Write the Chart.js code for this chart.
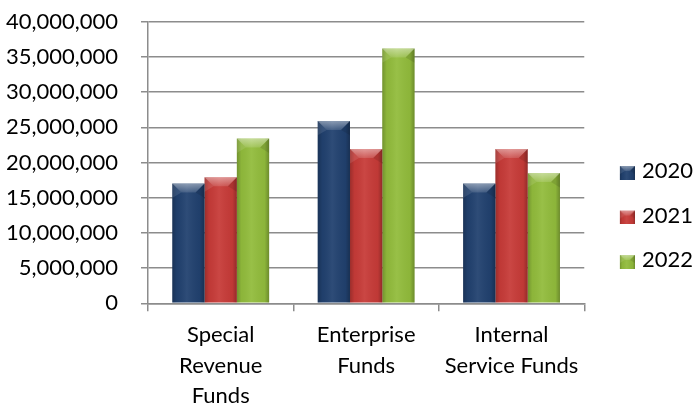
<!DOCTYPE html>
<html>
<head>
<meta charset="utf-8">
<script src="https://cdn.jsdelivr.net/npm/chart.js@4/dist/chart.umd.min.js"></script>
<style>
  html, body { margin: 0; padding: 0; background: #ffffff; }
  #wrap { width: 693px; height: 405px; position: relative; }
</style>
</head>
<body>
<div id="wrap"><canvas id="c" width="693" height="405"></canvas></div>
<script>
// ---- data ----
const categories = [["Special", "Revenue", "Funds"], ["Enterprise", "Funds"], ["Internal", "Service Funds"]];
const seriesNames = ["2020", "2021", "2022"];
const values2020 = [17000000, 25900000, 17000000];
const values2021 = [17900000, 21900000, 21900000];
const values2022 = [23400000, 36200000, 18500000];
const yTicks = [0, 5000000, 10000000, 15000000, 20000000, 25000000, 30000000, 35000000, 40000000];

// ---- style ----
const colors = ["#21416f", "#c73b38", "#92bc3c"];
const gridColor = "#8c8c8c";
const FONT = "Lato, 'Open Sans', sans-serif";

function bevel(ctx, L, T, w, h, b) {
  const R = L + w;
  b = Math.min(b, h / 2, w / 2);
  // horizontal shading
  let g = ctx.createLinearGradient(L, 0, R, 0);
  g.addColorStop(0, "rgba(0,0,0,0.22)");
  g.addColorStop(0.14, "rgba(0,0,0,0.04)");
  g.addColorStop(0.45, "rgba(255,255,255,0.06)");
  g.addColorStop(0.86, "rgba(0,0,0,0.04)");
  g.addColorStop(1, "rgba(0,0,0,0.26)");
  ctx.fillStyle = g;
  ctx.fillRect(L, T, w, h);
  // top facet
  ctx.beginPath();
  ctx.moveTo(L, T); ctx.lineTo(R, T); ctx.lineTo(R - b, T + b); ctx.lineTo(L + b, T + b); ctx.closePath();
  g = ctx.createLinearGradient(0, T, 0, T + b);
  g.addColorStop(0, "rgba(255,255,255,0.45)");
  g.addColorStop(1, "rgba(255,255,255,0.12)");
  ctx.fillStyle = g;
  ctx.fill();
  // left / right corner facets
  ctx.beginPath();
  ctx.moveTo(L, T); ctx.lineTo(L + b, T + b); ctx.lineTo(L, T + b * 1.6); ctx.closePath();
  ctx.fillStyle = "rgba(255,255,255,0.10)";
  ctx.fill();
  ctx.beginPath();
  ctx.moveTo(R, T); ctx.lineTo(R - b, T + b); ctx.lineTo(R, T + b * 1.6); ctx.closePath();
  ctx.fillStyle = "rgba(0,0,0,0.10)";
  ctx.fill();
}

function legendImage(color) {
  const cv = document.createElement("canvas");
  cv.width = 32; cv.height = 18;
  const c = cv.getContext("2d");
  c.fillStyle = color;
  c.fillRect(17, 4, 15, 14);
  bevel(c, 17, 4, 15, 14, 5);
  return cv;
}
const legendImages = colors.map(legendImage);

const barBevelPlugin = {
  id: "barBevel",
  afterDatasetsDraw(chart) {
    const ctx = chart.ctx;
    ctx.save();
    chart.data.datasets.forEach((ds, i) => {
      const meta = chart.getDatasetMeta(i);
      if (meta.hidden) return;
      meta.data.forEach(el => {
        const p = el.getProps(["x", "y", "base", "width"], true);
        const L = p.x - p.width / 2;
        const T = Math.min(p.y, p.base);
        const h = Math.abs(p.base - p.y);
        bevel(ctx, L, T, p.width, h, 9);
      });
    });
    ctx.restore();
  }
};

const seriesValues = [values2020, values2021, values2022];

new Chart(document.getElementById("c"), {
  type: "bar",
  data: {
    labels: categories,
    datasets: seriesNames.map((n, i) => ({
      label: n,
      data: seriesValues[i],
      backgroundColor: colors[i],
      borderWidth: 0,
      categoryPercentage: 0.666,
      barPercentage: 1.0
    }))
  },
  options: {
    responsive: false,
    animation: false,
    devicePixelRatio: 1,
    layout: { padding: { top: 21.7, left: 0, right: -10, bottom: 0 } },
    plugins: {
      tooltip: { enabled: false },
      legend: {
        position: "right",
        align: "center",
        title: { display: true, text: "", padding: { top: 3, bottom: 0 }, font: { size: 1 } },
        labels: {
          usePointStyle: true,
          pointStyleWidth: 24.2,
          padding: 22.5,
          color: "#000000",
          font: { family: FONT, size: 22 },
          generateLabels(chart) {
            const items = Chart.defaults.plugins.legend.labels.generateLabels(chart);
            items.forEach((it, i) => { it.pointStyle = legendImages[i]; });
            return items;
          }
        }
      }
    },
    scales: {
      x: {
        offset: true,
        grid: { display: true, offset: true, drawOnChartArea: false, drawTicks: true, tickLength: 8, color: gridColor, lineWidth: 1.5 },
        border: { display: true, color: gridColor, width: 1.5 },
        ticks: {
          color: "#000000",
          font: { family: FONT, size: 22, lineHeight: 1.386 },
          padding: 8.5,
          maxRotation: 0,
          minRotation: 0,
          autoSkip: false
        },
        afterFit(scale) { scale.height = 101.7; }
      },
      y: {
        min: 0,
        max: 40000000,
        afterBuildTicks(scale) { scale.ticks = yTicks.map(v => ({ value: v })); },
        grid: { color: gridColor, lineWidth: 1.5, tickLength: 7, drawTicks: true },
        border: { display: true, color: gridColor, width: 1.5 },
        ticks: {
          color: "#000000",
          font: { family: FONT, size: 22 },
          padding: 23,
          callback(v) { return Number(v).toLocaleString("en-US"); }
        },
        afterFit(scale) {
          scale.width = 148;
          scale.paddingTop = 0;
          scale.paddingBottom = 0;
        }
      }
    }
  },
  plugins: [barBevelPlugin]
});
</script>
</body>
</html>
